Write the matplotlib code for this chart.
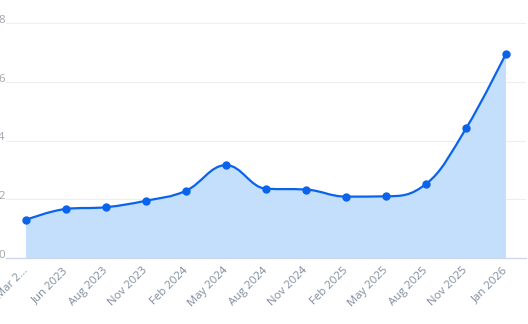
import numpy as np
import matplotlib
matplotlib.use("Agg")
import matplotlib.pyplot as plt
from matplotlib.path import Path
from matplotlib.patches import PathPatch

months = ["Mar 2…", "Jun 2023", "Aug 2023", "Nov 2023", "Feb 2024", "May 2024",
          "Aug 2024", "Nov 2024", "Feb 2025", "May 2025", "Aug 2025", "Nov 2025",
          "Jan 2026"]
values = [1.30, 1.67, 1.73, 1.95, 2.29, 3.16, 2.36, 2.33, 2.09, 2.10, 2.52, 4.41, 6.96]
y_ticks = [0, 2, 4, 6, 8]

LINE = "#0a63eb"
FILL = "#c4dffb"


def spline_path(xs, ys, smoothing=1.5):
    # cubic bezier segments with control points pulled toward neighbours
    n = len(xs)
    denom = smoothing + 1
    right = [None] * n
    verts = [(xs[0], ys[0])]
    codes = [Path.MOVETO]
    for i in range(1, n):
        x, y = xs[i], ys[i]
        lc = (x, y)
        if i < n - 1:
            lx, ly = xs[i - 1], ys[i - 1]
            nx, ny = xs[i + 1], ys[i + 1]
            lcx = (smoothing * x + lx) / denom
            lcy = (smoothing * y + ly) / denom
            rcx = (smoothing * x + nx) / denom
            rcy = (smoothing * y + ny) / denom
            corr = (rcy - lcy) * (rcx - x) / (rcx - lcx) + y - rcy
            lcy += corr
            rcy += corr
            if lcy > ly and lcy > y:
                lcy = max(ly, y); rcy = 2 * y - lcy
            elif lcy < ly and lcy < y:
                lcy = min(ly, y); rcy = 2 * y - lcy
            if rcy > ny and rcy > y:
                rcy = max(ny, y); lcy = 2 * y - rcy
            elif rcy < ny and rcy < y:
                rcy = min(ny, y); lcy = 2 * y - rcy
            right[i] = (rcx, rcy)
            lc = (lcx, lcy)
        prev = right[i - 1] if right[i - 1] is not None else (xs[i - 1], ys[i - 1])
        verts += [prev, lc, (x, y)]
        codes += [Path.CURVE4] * 3
    return verts, codes


fig = plt.figure(figsize=(5.28, 3.24), dpi=100)
ax = fig.add_axes([6 / 528, 66 / 324, 520 / 528, 235 / 324])

x = np.arange(len(values))
verts, codes = spline_path(list(x), values)

area = verts + [(x[-1], 0), (x[0], 0), (x[0], values[0])]
area_codes = codes + [Path.LINETO, Path.LINETO, Path.LINETO]
ax.add_patch(PathPatch(Path(area, area_codes), facecolor=FILL, edgecolor="none", zorder=1))
ax.add_patch(PathPatch(Path(verts, codes), facecolor="none", edgecolor=LINE, lw=1.6, zorder=3))
ax.plot(x, values, "o", color=LINE, ms=5.0, zorder=4)

ax.set_xlim(-0.5, len(values) - 0.5)
ax.set_ylim(0, 8)

ax.set_yticks(y_ticks)
ax.set_yticklabels([str(v) for v in y_ticks], fontsize=8.2, color="#a0a4ad", family="Open Sans")
ax.tick_params(axis="y", length=0, pad=1)
for lab in ax.get_yticklabels():
    lab.set_verticalalignment("baseline")
ax.grid(axis="y", color="#eeeeee", lw=0.8, zorder=0)

ax.set_xticks(x)
ax.set_xticklabels(months, fontsize=8.2, color="#7f8c9c", family="Open Sans",
                   rotation=45, ha="right", va="center", rotation_mode="anchor")
ax.tick_params(axis="x", length=0, pad=8)

for side in ["top", "right", "left"]:
    ax.spines[side].set_visible(False)
ax.spines["bottom"].set_color("#ccd6eb")
ax.spines["bottom"].set_linewidth(0.9)
ax.set_axisbelow(True)

fig.savefig("out.png", dpi=100)
